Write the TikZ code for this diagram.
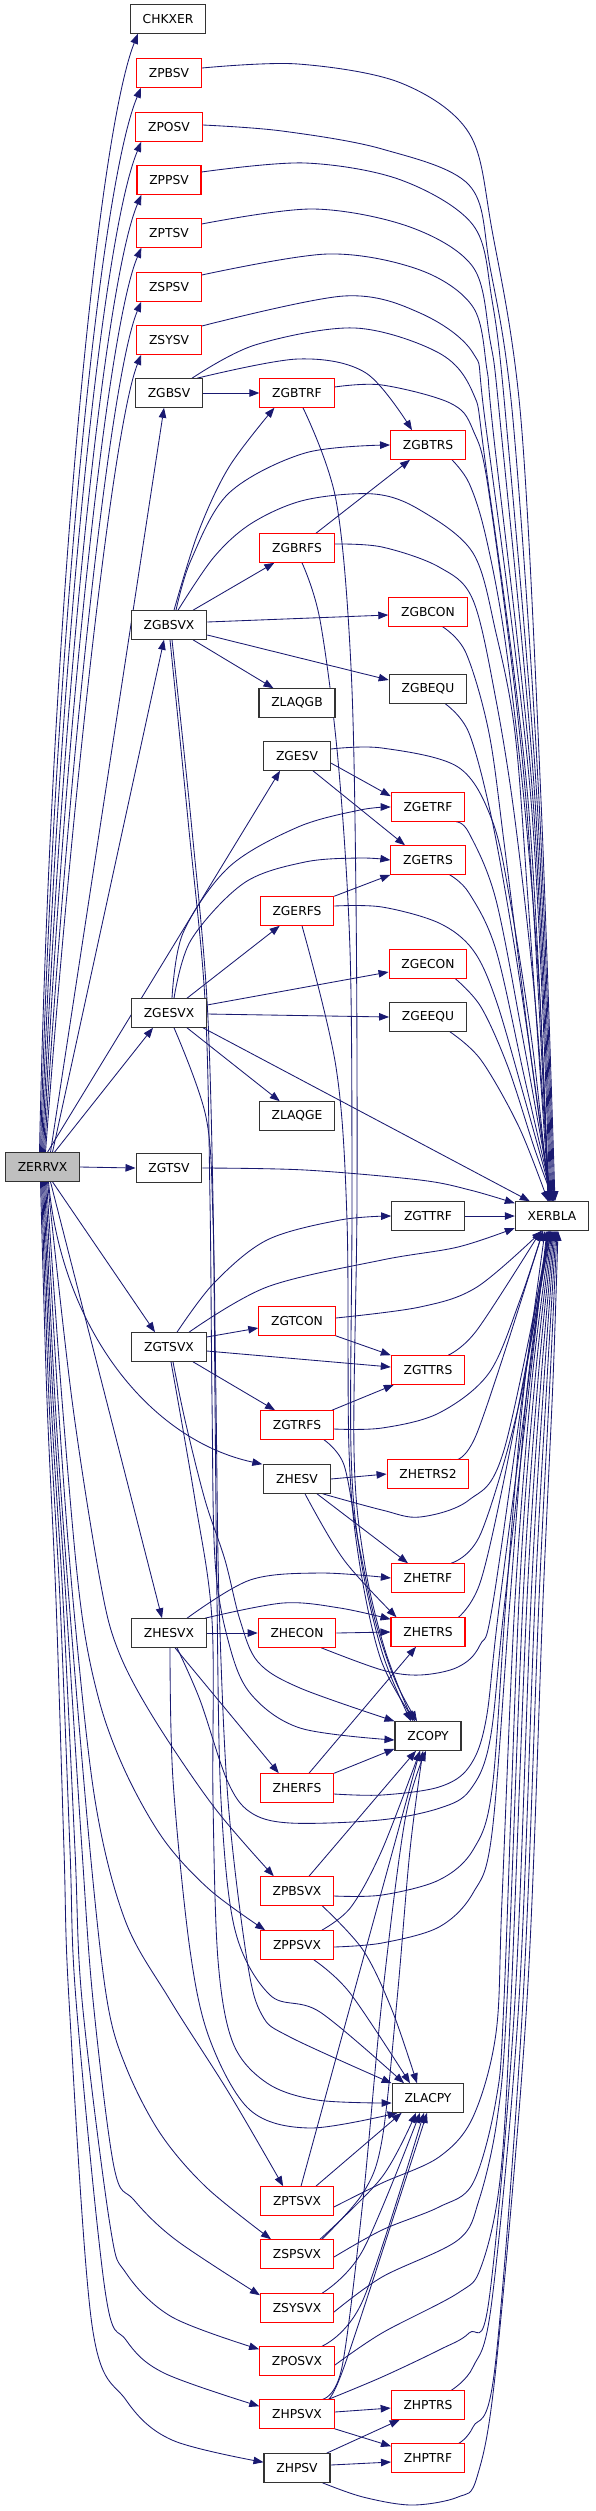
\documentclass[tikz,border=0pt]{standalone}
\usepackage{fontspec}
\setmainfont{DejaVu Sans}
\usetikzlibrary{arrows.meta,backgrounds}
\definecolor{edgec}{RGB}{25,25,112}
\newcommand\pe[1]{\draw[E] plot[smooth,tension=0.55] coordinates {#1};}
\begin{document}
\begin{tikzpicture}[x=1pt,y=-1pt,
  box/.style={rectangle, inner xsep=12.3pt, inner ysep=0pt, minimum height=28.5pt, line width=1.1pt, font=\fontsize{12.3}{14}\selectfont, text=black, fill=white},
  nb/.style={box, draw=black!80},
  nr/.style={box, draw=red},
  ng/.style={box, draw=black!80, fill=gray!50},
  E/.style={draw=edgec, line width=0.85pt, -{Triangle[length=10pt,width=7.5pt]}},
]
\useasboundingbox (0,0) rectangle (595,2511);
% ---------------- nodes
\node[nb] (CHKXER) at (168,19) {CHKXER};
\node[nr] (ZPBSV) at (169,73) {ZPBSV};
\node[nr] (ZPOSV) at (169,127) {ZPOSV};
\node[nr] (ZPPSV) at (169,180) {ZPPSV};
\node[nr] (ZPTSV) at (169,233) {ZPTSV};
\node[nr] (ZSPSV) at (169,287) {ZSPSV};
\node[nr] (ZSYSV) at (169,340) {ZSYSV};
\node[nb] (ZGBSV) at (169,393) {ZGBSV};
\node[nr] (ZGBTRF) at (297,393) {ZGBTRF};
\node[nr] (ZGBTRS) at (428,445) {ZGBTRS};
\node[nr] (ZGBRFS) at (297,548) {ZGBRFS};
\node[nb] (ZGBSVX) at (169,625) {ZGBSVX};
\node[nr] (ZGBCON) at (428,612) {ZGBCON};
\node[nb] (ZLAQGB) at (297,703) {ZLAQGB};
\node[nb] (ZGBEQU) at (428,689) {ZGBEQU};
\node[nb] (ZGESV) at (297,756) {ZGESV};
\node[nr] (ZGETRF) at (428,807) {ZGETRF};
\node[nr] (ZGETRS) at (428,860) {ZGETRS};
\node[nr] (ZGERFS) at (297,911) {ZGERFS};
\node[nr] (ZGECON) at (428,964) {ZGECON};
\node[nb] (ZGESVX) at (169,1013) {ZGESVX};
\node[nb] (ZGEEQU) at (428,1017) {ZGEEQU};
\node[nb] (ZLAQGE) at (297,1116) {ZLAQGE};
\node[ng] (ZERRVX) at (42.5,1167) {ZERRVX};
\node[nb] (ZGTSV) at (169,1168) {ZGTSV};
\node[nb] (ZGTTRF) at (428,1216) {ZGTTRF};
\node[nb] (XERBLA) at (552,1216) {XERBLA};
\node[nr] (ZGTCON) at (297,1321) {ZGTCON};
\node[nb] (ZGTSVX) at (169,1347) {ZGTSVX};
\node[nr] (ZGTTRS) at (428,1370) {ZGTTRS};
\node[nr] (ZGTRFS) at (297,1425) {ZGTRFS};
\node[nb] (ZHESV) at (297,1479) {ZHESV};
\node[nr] (ZHETRS2) at (428,1474) {ZHETRS2};
\node[nr] (ZHETRF) at (428,1578) {ZHETRF};
\node[nb] (ZHESVX) at (169,1633) {ZHESVX};
\node[nr] (ZHECON) at (297,1633) {ZHECON};
\node[nr] (ZHETRS) at (428,1632) {ZHETRS};
\node[nb] (ZCOPY) at (428,1736) {ZCOPY};
\node[nr] (ZHERFS) at (297,1788) {ZHERFS};
\node[nr] (ZPBSVX) at (297,1891) {ZPBSVX};
\node[nr] (ZPPSVX) at (297,1945) {ZPPSVX};
\node[nb] (ZLACPY) at (428,2098) {ZLACPY};
\node[nr] (ZPTSVX) at (297,2201) {ZPTSVX};
\node[nr] (ZSPSVX) at (297,2254) {ZSPSVX};
\node[nr] (ZSYSVX) at (297,2308) {ZSYSVX};
\node[nr] (ZPOSVX) at (297,2361) {ZPOSVX};
\node[nr] (ZHPSVX) at (297,2414) {ZHPSVX};
\node[nr] (ZHPTRS) at (428,2405) {ZHPTRS};
\node[nr] (ZHPTRF) at (428,2458) {ZHPTRF};
\node[nb] (ZHPSV) at (297,2468) {ZHPSV};
\begin{scope}[on background layer]
% ---------------- ZERRVX fan upwards
\draw[E] ([xshift=-3pt]ZERRVX.north) .. controls (50,640) and (96,140) .. ([xshift=8pt]CHKXER.south west);
\draw[E] ([xshift=-2pt]ZERRVX.north) .. controls (53,670) and (98,190) .. ([xshift=5pt]ZPBSV.south west);
\draw[E] ([xshift=-1pt]ZERRVX.north) .. controls (56,700) and (100,240) .. ([xshift=6pt]ZPOSV.south west);
\draw[E] (ZERRVX.north) .. controls (59,730) and (103,285) .. ([xshift=5pt]ZPPSV.south west);
\draw[E] ([xshift=1pt]ZERRVX.north) .. controls (62,760) and (106,330) .. ([xshift=5pt]ZPTSV.south west);
\draw[E] ([xshift=2pt]ZERRVX.north) .. controls (66,790) and (109,378) .. ([xshift=5pt]ZSPSV.south west);
\draw[E] ([xshift=3pt]ZERRVX.north) .. controls (70,820) and (112,428) .. ([xshift=5pt]ZSYSV.south west);
\draw[E] ([xshift=8pt]ZERRVX.north) -- ([xshift=-5pt]ZGBSV.south);
\draw[E] ([xshift=10pt]ZERRVX.north) -- ([xshift=-5pt]ZGBSVX.south);
\draw[E] ([xshift=5pt]ZERRVX.north) -- ([xshift=-17pt]ZGESV.south);
\draw[E] ([xshift=12pt]ZERRVX.north) -- ([xshift=-16pt]ZGESVX.south);
\draw[E] (ZERRVX.east) -- (ZGTSV.west);
% ---------------- ZERRVX fan downwards
\draw[E] ([xshift=10pt]ZERRVX.south) -- ([xshift=-14pt]ZGTSVX.north);
\draw[E] ([xshift=6pt]ZERRVX.south) .. controls (62,1330) and (150,1440) .. ([xshift=-1pt]ZHESV.north west);
\draw[E] ([xshift=8pt]ZERRVX.south) -- ([xshift=-7pt]ZHESVX.north);
\pe{([xshift=5pt]ZERRVX.south) (72,1400) (100,1580) (118,1650) (153,1717) (214,1807) ([xshift=14pt]ZPBSVX.north west)}
\pe{([xshift=4pt]ZERRVX.south) (62,1400) (80,1600) (99,1700) (126,1773) (164,1840) (210,1890) ([xshift=5pt]ZPPSVX.north west)}
\pe{([xshift=3pt]ZERRVX.south) (58,1400) (73,1600) (95,1800) (125,1920) (170,2000) (229,2093) ([xshift=23pt]ZPTSVX.north west)}
\pe{([xshift=2pt]ZERRVX.south) (55,1400) (69,1600) (90,1850) (107,2000) (126,2067) (160,2133) (206,2187) ([xshift=11pt]ZSPSVX.north west)}
\pe{([xshift=1pt]ZERRVX.south) (53,1400) (66,1600) (82,1850) (93,2000) (114,2167) (134,2200) (176,2240) ([yshift=-2pt]ZSYSVX.north west)}
\pe{(ZERRVX.south) (51,1400) (63,1600) (75,1850) (82,2000) (110,2225) (126,2273) (172,2317) ([yshift=-3pt]ZPOSVX.north west)}
\pe{([xshift=-1pt]ZERRVX.south) (49,1400) (60,1600) (70,1850) (76,2000) (105,2290) (126,2340) (164,2373) ([yshift=-7pt]ZHPSVX.north west)}
\pe{([xshift=-2pt]ZERRVX.south) (47,1400) (56,1600) (64,1850) (69,2000) (92,2325) (126,2400) (172,2440) ([yshift=-9pt]ZHPSV.north west)}
% ---------------- upper rank-1 nodes to XERBLA
\pe{([yshift=5pt]ZPBSV.east) (298,64) (401,83) (469,133) (492,230) (521,420) (541,800) ([xshift=3pt]XERBLA.north)}
\pe{([yshift=2pt]ZPOSV.east) (282,131) (382,149) (469,185) (490,267) (513,420) (539,800) ([xshift=2pt]XERBLA.north)}
\pe{([yshift=8pt]ZPPSV.east) (305,163) (401,180) (473,225) (492,300) (506,420) (537,800) ([xshift=1pt]XERBLA.north)}
\pe{([yshift=9pt]ZPTSV.east) (313,209) (410,227) (473,267) (490,340) (500,420) (535,800) (XERBLA.north)}
\pe{([yshift=12pt]ZSPSV.east) (328,254) (420,270) (473,307) (487,370) (493,430) (533,800) ([xshift=-1pt]XERBLA.north)}
\pe{([yshift=14pt]ZSYSV.east) (344,296) (420,313) (473,353) (485,420) (531,800) ([xshift=-2pt]XERBLA.north)}
% ---------------- ZGBSV
\draw[E] (ZGBSV.east) -- (ZGBTRF.west);
\pe{([xshift=-6pt]ZGBSV.north east) (298,359) (366,373) ([xshift=-16pt]ZGBTRS.north)}
\pe{([xshift=-11pt]ZGBSV.north east) (255,345) (355,328) (439,353) (473,393) (485,460) (528,800) ([xshift=-3pt]XERBLA.north)}
% ---------------- ZGBTRF, ZGBTRS
\pe{([yshift=6pt]ZGBTRF.east) (382,385) (450,403) (473,430) (490,500) (526,800) ([xshift=-3pt]XERBLA.north)}
\pe{([xshift=6pt]ZGBTRF.south) (336,500) (351,667) (356,900) (357,1200) (354,1450) (364,1560) (385,1650) ([xshift=-15pt]ZCOPY.north)}
\pe{([xshift=-14pt]ZGBTRS.south east) (469,483) (485,533) (504,633) (524,800) (540,1000) ([xshift=-4pt]XERBLA.north)}
% ---------------- ZGBSVX
\pe{([xshift=5pt]ZGBSVX.north) (198,533) (229,467) ([xshift=15pt]ZGBTRF.south west)}
\pe{([xshift=7pt]ZGBSVX.north) (191,560) (229,493) (305,453) (ZGBTRS.west)}
\pe{([xshift=9pt]ZGBSVX.north) (214,557) (252,523) (305,500) (374,494) (420,510) (473,553) (496,633) (515,733) (528,900) ([xshift=-3pt]XERBLA.north)}
\draw[E] ([xshift=24pt]ZGBSVX.north) -- ([xshift=15pt]ZGBRFS.south west);
\draw[E] ([yshift=3pt]ZGBSVX.east) -- ([yshift=-3pt]ZGBCON.west);
\draw[E] ([yshift=-10pt]ZGBSVX.east) -- ([yshift=9pt]ZGBEQU.west);
\draw[E] ([xshift=24pt]ZGBSVX.south) -- ([xshift=15pt]ZLAQGB.north west);
\pe{([xshift=1pt]ZGBSVX.south) (188,820) (205,1000) (210,1200) (212,1400) (215,1560) (228,1640) (250,1693) (300,1728) ([yshift=-4pt]ZCOPY.west)}
\pe{([xshift=3pt]ZGBSVX.south) (191,820) (207,1000) (213,1200) (215,1400) (217,1600) (221,1800) (235,1930) (270,1995) (320,2012) ([xshift=-24pt]ZLACPY.north)}
% ---------------- ZGBRFS, ZGBCON, ZGBEQU
\draw[E] ([xshift=19pt]ZGBRFS.north) -- ([xshift=-18pt]ZGBTRS.south);
\pe{([yshift=4pt]ZGBRFS.east) (382,547) (439,567) (473,600) (496,700) (515,820) (535,1000) ([xshift=-2pt]XERBLA.north)}
\pe{([xshift=5pt]ZGBRFS.south) (320,620) (338,760) (350,950) (352,1200) (351,1450) (361,1560) (383,1655) ([xshift=-17pt]ZCOPY.north)}
\pe{([xshift=-25pt]ZGBCON.south east) (466,653) (489,733) (505,850) (530,1050) ([xshift=-1pt]XERBLA.north)}
\pe{([xshift=-22pt]ZGBEQU.south east) (469,733) (492,820) (515,950) (537,1100) ([xshift=-2pt]XERBLA.north)}
% ---------------- ZGESV
\draw[E] ([yshift=-7pt]ZGESV.east) -- ([yshift=-4pt]ZGETRF.north west);
\draw[E] ([xshift=16pt]ZGESV.south) -- ([xshift=-23pt]ZGETRS.north);
\pe{([yshift=7pt]ZGESV.east) (382,748) (458,767) (492,820) (510,900) (533,1050) ([xshift=-3pt]XERBLA.north)}
\pe{([xshift=-9pt]ZGETRF.south east) (469,833) (496,900) (525,1050) (XERBLA.north)}
\pe{([xshift=-16pt]ZGETRS.south east) (469,893) (496,950) (525,1080) ([xshift=1pt]XERBLA.north)}
% ---------------- ZGERFS, ZGECON, ZGEEQU
\draw[E] (ZGERFS.north east) -- (ZGETRS.south west);
\pe{([yshift=5pt]ZGERFS.east) (382,907) (439,923) (473,950) (496,1000) (525,1100) ([xshift=1pt]XERBLA.north)}
\pe{([xshift=5pt]ZGERFS.south) (336,1067) (347,1220) (349,1450) (359,1560) (381,1660) ([xshift=-13pt]ZCOPY.north)}
\pe{([xshift=-12pt]ZGECON.south east) (481,1007) (508,1067) (535,1150) ([xshift=2pt]XERBLA.north)}
\pe{([xshift=-17pt]ZGEEQU.south east) (481,1060) (519,1127) ([xshift=-4pt]XERBLA.north)}
% ---------------- ZGESVX
\pe{([xshift=3pt]ZGESVX.north) (183,933) (229,867) (298,827) (360,810) (ZGETRF.west)}
\pe{([xshift=5pt]ZGESVX.north) (191,940) (244,883) (305,862) (360,858) (ZGETRS.west)}
\draw[E] ([xshift=18pt]ZGESVX.north) -- ([xshift=20pt]ZGERFS.south west);
\draw[E] ([yshift=8pt]ZGESVX.east) -- ([yshift=-8pt]ZGECON.west);
\draw[E] ([yshift=-1pt]ZGESVX.east) -- (ZGEEQU.west);
\draw[E] ([xshift=18pt]ZGESVX.south) -- ([xshift=21pt]ZLAQGE.north west);
\draw[E] ([xshift=-4pt]ZGESVX.south east) -- ([xshift=15pt]XERBLA.north west);
\pe{([xshift=5pt]ZGESVX.south) (206,1117) (213,1220) (216,1400) (219,1600) (228,1800) (247,1960) (262,2015) (290,2037) (ZLACPY.north west)}
% ---------------- ZGTSV, ZGTTRF
\pe{(ZGTSV.east) (305,1170) (420,1180) (470,1190) ([yshift=-2pt]XERBLA.north west)}
\draw[E] (ZGTTRF.east) -- (XERBLA.west);
% ---------------- ZGTSVX
\pe{([xshift=8pt]ZGTSVX.north) (214,1283) (267,1240) (340,1220) (ZGTTRF.west)}
\pe{([xshift=20pt]ZGTSVX.north) (267,1287) (382,1260) (458,1247) ([yshift=-12pt]XERBLA.west)}
\draw[E] ([yshift=10pt]ZGTSVX.east) -- ([yshift=-7pt]ZGTCON.west);
\draw[E] ([yshift=-4pt]ZGTSVX.east) -- ([yshift=3pt]ZGTTRS.west);
\draw[E] ([xshift=24pt]ZGTSVX.south) -- ([xshift=15pt]ZGTRFS.north west);
\pe{([xshift=4pt]ZGTSVX.south) (185,1420) (205,1500) (225,1560) (240,1620) (258,1662) (300,1688) (ZCOPY.north west)}
\pe{([xshift=2pt]ZGTSVX.south) (195,1500) (212,1620) (213,1800) (218,1960) (233,2043) (267,2083) (317,2100) ([yshift=-5pt]ZLACPY.west)}
% ---------------- ZGTCON, ZGTTRS, ZGTRFS
\draw[E] (ZGTCON.south east) -- (ZGTTRS.north west);
\pe{([yshift=3pt]ZGTCON.east) (420,1307) (477,1287) ([xshift=-10pt]XERBLA.south)}
\pe{([xshift=-17pt]ZGTTRS.north east) (477,1330) ([xshift=-11pt]XERBLA.south)}
\draw[E] ([xshift=-2pt]ZGTRFS.north east) -- ([xshift=3pt]ZGTTRS.south west);
\pe{([yshift=-4pt]ZGTRFS.east) (382,1428) (439,1413) (489,1373) (520,1300) ([xshift=-9pt]XERBLA.south)}
\pe{([xshift=-10pt]ZGTRFS.south east) (344,1465) (358,1540) (375,1620) (395,1680) ([xshift=-11pt]ZCOPY.north)}
% ---------------- ZHESV
\draw[E] (ZHESV.east) -- (ZHETRS2.west);
\pe{([xshift=-8pt]ZHESV.south east) (382,1510) (420,1517) (469,1500) (504,1450) ([xshift=-2pt]XERBLA.south)}
\draw[E] ([xshift=20pt]ZHESV.south) -- ([xshift=-20pt]ZHETRF.north);
\pe{([xshift=8pt]ZHESV.south) (344,1560) ([xshift=6pt]ZHETRS.north west)}
\pe{([xshift=-19pt]ZHETRS2.north east) (477,1433) ([xshift=-9pt]XERBLA.south)}
\pe{([xshift=-14pt]ZHETRF.north east) (481,1533) (520,1400) ([xshift=-3pt]XERBLA.south)}
% ---------------- ZHESVX
\pe{([xshift=18pt]ZHESVX.north) (250,1580) (320,1573) (ZHETRF.west)}
\pe{([xshift=-2pt]ZHESVX.north east) (283,1603) (340,1608) ([yshift=-2pt]ZHETRS.north west)}
\draw[E] (ZHESVX.east) -- (ZHECON.west);
\draw[E] ([xshift=6pt]ZHESVX.south) -- ([xshift=19pt]ZHERFS.north west);
\pe{([xshift=8pt]ZHESVX.south) (200,1700) (227,1780) (250,1812) (290,1823) (380,1820) (440,1808) (470,1790) (490,1740) (505,1600) ([xshift=-5pt]XERBLA.south)}
\pe{([xshift=1pt]ZHESVX.south) (173,1780) (190,1950) (210,2040) (250,2110) (310,2128) ([xshift=6pt]ZLACPY.south west)}
% ---------------- ZHECON, ZHETRS, ZHERFS
\draw[E] (ZHECON.east) -- (ZHETRS.west);
\pe{([xshift=-15pt]ZHECON.south east) (382,1670) (420,1675) (458,1667) (480,1645) (495,1590) ([xshift=-7pt]XERBLA.south)}
\pe{([xshift=-7pt]ZHETRS.north east) (481,1580) (510,1450) ([xshift=-1pt]XERBLA.south)}
\draw[E] ([xshift=12pt]ZHERFS.north) -- ([xshift=-12pt]ZHETRS.south);
\draw[E] (ZHERFS.north east) -- ([yshift=2pt]ZCOPY.south west);
\pe{([yshift=-6pt]ZHERFS.east) (382,1795) (439,1787) (469,1767) (486,1720) (500,1600) ([xshift=-4pt]XERBLA.south)}
% ---------------- ZPBSVX, ZPPSVX
\draw[E] ([xshift=12pt]ZPBSVX.north) -- ([xshift=-12pt]ZCOPY.south);
\pe{([xshift=-12pt]ZPBSVX.south east) (363,1950) (392,2010) ([xshift=-11pt]ZLACPY.north)}
\pe{([yshift=-5pt]ZPBSVX.east) (382,1895) (439,1880) (473,1850) (492,1790) (506,1600) (525,1380) ([xshift=-3pt]XERBLA.south)}
\pe{([xshift=-12pt]ZPPSVX.north east) (351,1907) (382,1850) ([xshift=-8pt]ZCOPY.south)}
\pe{([xshift=-20pt]ZPPSVX.south east) (350,1993) ([xshift=-18pt]ZLACPY.north)}
\pe{([yshift=-2pt]ZPPSVX.east) (382,1943) (439,1927) (473,1893) (492,1833) (510,1600) (528,1380) ([xshift=-2pt]XERBLA.south)}
% ---------------- ZPTSVX, ZSPSVX, ZSYSVX, ZPOSVX
\draw[E] ([xshift=4pt]ZPTSVX.north) -- ([xshift=-8pt]ZCOPY.south);
\draw[E] ([xshift=-18pt]ZPTSVX.north east) -- ([xshift=10pt]ZLACPY.south west);
\pe{([yshift=-6pt]ZPTSVX.east) (382,2183) (439,2157) (473,2117) (496,2033) (502,1900) (515,1600) (532,1380) ([xshift=-1pt]XERBLA.south)}
\pe{([xshift=-14pt]ZSPSVX.north east) (382,2177) ([xshift=-12pt]ZLACPY.south)}
\pe{([xshift=-12pt]ZSPSVX.north east) (363,2193) (382,2140) (397,2000) (410,1850) ([xshift=-5pt]ZCOPY.south)}
\pe{([yshift=-3pt]ZSPSVX.east) (382,2230) (439,2207) (473,2183) (496,2100) (504,2000) (519,1600) (535,1380) (XERBLA.south)}
\pe{([xshift=-12pt]ZSYSVX.north east) (363,2250) ([xshift=-8pt]ZLACPY.south)}
\pe{([yshift=-4pt]ZSYSVX.east) (382,2277) (458,2240) (479,2200) (497,2120) (507,2000) (523,1600) (538,1380) ([xshift=1pt]XERBLA.south)}
\pe{([xshift=-13pt]ZPOSVX.north east) (363,2300) ([xshift=-4pt]ZLACPY.south)}
\pe{([yshift=-4pt]ZPOSVX.east) (382,2333) (458,2293) (481,2267) (500,2180) (511,2000) (527,1600) (541,1380) ([xshift=2pt]XERBLA.south)}
% ---------------- ZHPSVX, ZHPSV, ZHPTRS, ZHPTRF
\pe{([xshift=-10pt]ZHPSVX.north east) (344,2367) ([xshift=-1pt]ZLACPY.south)}
\pe{([xshift=-12pt]ZHPSVX.north east) (342,2367) (363,2200) (382,2000) (405,1820) ([xshift=-2pt]ZCOPY.south)}
\draw[E] ([yshift=2pt]ZHPSVX.east) -- ([yshift=-3pt]ZHPTRS.west);
\draw[E] (ZHPSVX.south east) -- ([yshift=-3pt]ZHPTRF.north west);
\pe{([xshift=-6pt]ZHPSVX.north east) (382,2377) (439,2350) (469,2333) (489,2300) (515,2000) (531,1600) (544,1380) ([xshift=3pt]XERBLA.south)}
\pe{([xshift=-14pt]ZHPTRS.north east) (473,2367) (492,2300) (519,2000) (535,1600) (547,1380) ([xshift=4pt]XERBLA.south)}
\pe{([xshift=-6pt]ZHPTRF.north east) (473,2427) (495,2367) (523,2000) (539,1600) (550,1380) ([xshift=5pt]XERBLA.south)}
\draw[E] ([xshift=-4pt]ZHPSV.north east) -- ([xshift=9pt]ZHPTRS.south west);
\draw[E] ([yshift=3pt]ZHPSV.east) -- ([yshift=-4pt]ZHPTRF.west);
\pe{([xshift=-8pt]ZHPSV.south east) (363,2497) (412,2505) (458,2497) (477,2477) (496,2367) (527,2000) (543,1600) (553,1380) ([xshift=6pt]XERBLA.south)}
\end{scope}
\end{tikzpicture}
\end{document}
